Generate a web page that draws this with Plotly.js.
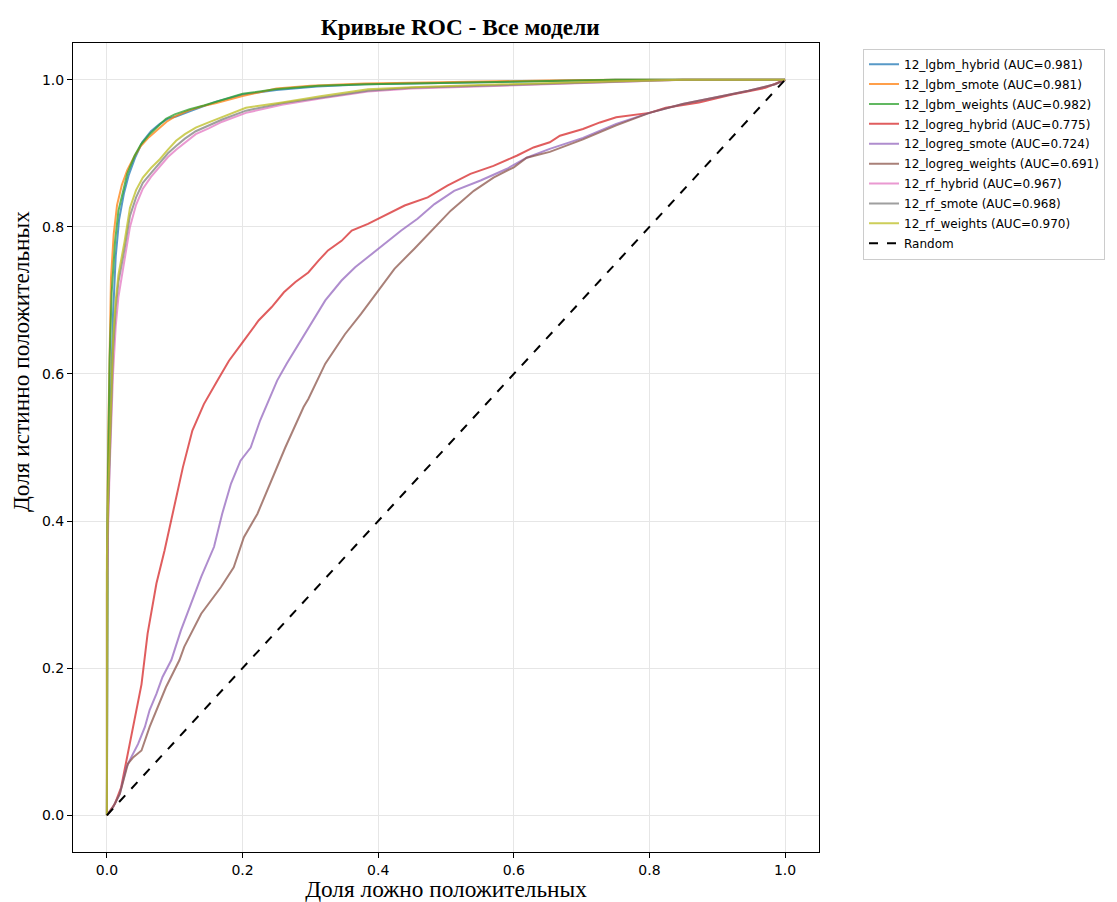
<!DOCTYPE html>
<html>
<head>
<meta charset="utf-8">
<script src="https://cdn.plot.ly/plotly-3.0.1.min.js"></script>
<style>html,body{margin:0;padding:0;background:#fff;}#chart{width:1117px;height:902px;}</style>
</head>
<body>
<div id="chart"></div>
<script>
// ---- Data ----
const lgbmX_weights = [0,0,0.001,0.002,0.004,0.007,0.012,0.017,0.024,0.03,0.041,0.05,0.063,0.075,0.087,0.1,0.122,0.143,0.158,0.2,0.248,0.312,0.385,0.45,0.55,0.65,0.75,0.85,1];
const lgbmY_weights = [0,0.30,0.42,0.49,0.62,0.71,0.78,0.822,0.85,0.872,0.897,0.912,0.926,0.937,0.947,0.953,0.96,0.965,0.969,0.981,0.987,0.992,0.994,0.995,0.997,0.999,1,1,1];

const lgbmX_hybrid = [0,0,0.001,0.003,0.006,0.009,0.013,0.018,0.025,0.032,0.042,0.052,0.065,0.078,0.09,0.102,0.125,0.145,0.16,0.2,0.25,0.31,0.38,0.45,0.55,0.65,0.75,0.85,1];
const lgbmY_hybrid = [0,0.28,0.40,0.47,0.58,0.68,0.76,0.81,0.845,0.87,0.895,0.915,0.93,0.94,0.947,0.95,0.958,0.965,0.97,0.98,0.986,0.991,0.994,0.995,0.997,0.999,1,1,1];

const lgbmX_smote = [0,0,0.001,0.002,0.004,0.006,0.01,0.015,0.022,0.03,0.04,0.05,0.062,0.075,0.088,0.1,0.12,0.14,0.16,0.2,0.25,0.3,0.38,0.45,0.55,0.65,0.75,0.85,1];
const lgbmY_smote = [0,0.31,0.44,0.52,0.64,0.73,0.79,0.83,0.857,0.877,0.895,0.91,0.922,0.933,0.943,0.95,0.958,0.964,0.968,0.978,0.988,0.992,0.995,0.996,0.998,0.999,1,1,1];

const rfX = [0,0,0.002,0.004,0.009,0.013,0.017,0.026,0.034,0.043,0.053,0.065,0.078,0.09,0.102,0.115,0.131,0.15,0.17,0.205,0.258,0.317,0.385,0.45,0.55,0.65,0.75,0.85,1];
const rfY_weights = [0,0.35,0.44,0.505,0.645,0.70,0.735,0.78,0.826,0.85,0.867,0.88,0.892,0.905,0.917,0.926,0.935,0.942,0.949,0.962,0.969,0.978,0.987,0.99,0.993,0.996,0.998,1,1];
const rfY_smote = [0,0.33,0.42,0.49,0.63,0.69,0.725,0.77,0.815,0.84,0.86,0.873,0.887,0.9,0.91,0.92,0.93,0.938,0.946,0.958,0.968,0.976,0.985,0.989,0.992,0.995,0.998,1,1];
const rfY_hybrid = [0,0.30,0.40,0.47,0.60,0.665,0.705,0.755,0.80,0.83,0.852,0.868,0.882,0.895,0.905,0.915,0.926,0.934,0.943,0.955,0.966,0.975,0.984,0.988,0.991,0.995,0.998,1,1];

const logregX_hybrid = [0,0.012,0.021,0.029,0.036,0.043,0.051,0.060,0.073,0.085,0.095,0.104,0.112,0.126,0.143,0.163,0.180,0.200,0.224,0.243,0.261,0.278,0.297,0.312,0.326,0.346,0.361,0.385,0.409,0.439,0.473,0.502,0.536,0.570,0.605,0.629,0.653,0.668,0.702,0.727,0.751,0.800,0.824,0.873,0.922,0.971,1];
const logregY_hybrid = [0,0.016,0.038,0.075,0.106,0.143,0.178,0.247,0.315,0.360,0.401,0.442,0.473,0.523,0.559,0.591,0.618,0.643,0.673,0.691,0.711,0.725,0.738,0.754,0.768,0.781,0.795,0.804,0.815,0.829,0.840,0.856,0.872,0.883,0.897,0.908,0.915,0.924,0.933,0.942,0.949,0.955,0.962,0.969,0.980,0.989,1];

const logregX_smote = [0,0.009,0.019,0.029,0.036,0.046,0.056,0.063,0.073,0.082,0.095,0.109,0.139,0.158,0.170,0.183,0.197,0.212,0.226,0.239,0.251,0.265,0.297,0.322,0.346,0.366,0.385,0.405,0.434,0.458,0.483,0.512,0.551,0.590,0.619,0.653,0.702,0.751,0.800,0.849,0.898,0.946,0.985,1];
const logregY_smote = [0,0.011,0.029,0.066,0.079,0.097,0.120,0.143,0.165,0.188,0.211,0.251,0.324,0.365,0.410,0.451,0.482,0.500,0.537,0.566,0.591,0.614,0.663,0.700,0.727,0.745,0.759,0.774,0.795,0.811,0.831,0.849,0.863,0.879,0.894,0.906,0.921,0.940,0.955,0.967,0.976,0.985,0.994,1];

const logregX_weights = [0,0.009,0.019,0.031,0.039,0.051,0.063,0.075,0.087,0.107,0.114,0.139,0.168,0.187,0.202,0.222,0.241,0.263,0.290,0.297,0.322,0.351,0.375,0.400,0.424,0.453,0.483,0.507,0.541,0.570,0.600,0.619,0.653,0.702,0.751,0.800,0.849,0.898,0.946,0.985,1];
const logregY_weights = [0,0.011,0.029,0.070,0.079,0.088,0.120,0.147,0.174,0.211,0.229,0.274,0.310,0.337,0.378,0.410,0.451,0.500,0.555,0.566,0.614,0.654,0.682,0.713,0.743,0.770,0.799,0.822,0.849,0.867,0.881,0.894,0.902,0.919,0.938,0.955,0.967,0.976,0.985,0.994,1];

const randomX = [0,1];
const randomY = [0,1];

const seriesNames = [
  "12_lgbm_hybrid (AUC=0.981)",
  "12_lgbm_smote (AUC=0.981)",
  "12_lgbm_weights (AUC=0.982)",
  "12_logreg_hybrid (AUC=0.775)",
  "12_logreg_smote (AUC=0.724)",
  "12_logreg_weights (AUC=0.691)",
  "12_rf_hybrid (AUC=0.967)",
  "12_rf_smote (AUC=0.968)",
  "12_rf_weights (AUC=0.970)"
];
const seriesX = [lgbmX_hybrid, lgbmX_smote, lgbmX_weights, logregX_hybrid, logregX_smote, logregX_weights, rfX, rfX, rfX];
const seriesY = [lgbmY_hybrid, lgbmY_smote, lgbmY_weights, logregY_hybrid, logregY_smote, logregY_weights, rfY_hybrid, rfY_smote, rfY_weights];
const colors = ["#1f77b4","#ff7f0e","#2ca02c","#d62728","#9467bd","#8c564b","#e377c2","#7f7f7f","#bcbd22"];
const tickVals = [0,0.2,0.4,0.6,0.8,1.0];
const tickText = ["0.0","0.2","0.4","0.6","0.8","1.0"];
const titleText = 'Кривые ROC - Все модели';
const xTitleText = 'Доля ложно положительных';
const yTitleText = 'Доля истинно положительных';

const traces = seriesNames.map((n,i)=>({
  x: seriesX[i], y: seriesY[i], name: n, type: 'scatter', mode: 'lines',
  legendgroup: 'g'+i,
  line: {color: colors[i], width: 2}, opacity: 0.75
}));
traces.push({x: randomX, y: randomY, name: 'Random', type: 'scatter', mode: 'lines',
  legendgroup: 'grand', line: {color: '#000', width: 2, dash: 'dash'}});

const axisCommon = {
  range: [-0.05, 1.05], tickvals: tickVals, ticktext: tickText,
  showline: true, mirror: true, linecolor: '#000', linewidth: 1,
  ticks: 'outside', ticklen: 5, tickwidth: 1, tickcolor: '#000',
  showgrid: true, gridcolor: '#e6e6e6', gridwidth: 1, zeroline: false,
  tickfont: {family: 'DejaVu Sans', size: 14, color: '#000'}, automargin: false
};
const serifFont = {family: 'Liberation Serif', size: 23.3, color: '#000'};

const layout = {
  width: 1117, height: 902,
  margin: {l: 73, r: 293, t: 43, b: 50},
  paper_bgcolor: '#fff', plot_bgcolor: '#fff',
  title: {text: '<b>' + titleText + '</b>', x: 0.412, xanchor: 'center', y: 0.970, yanchor: 'middle',
          font: serifFont},
  xaxis: Object.assign({}, axisCommon, {title: {text: xTitleText, standoff: 4, font: serifFont}}),
  yaxis: Object.assign({}, axisCommon),
  annotations: [{text: yTitleText, xref: 'paper', yref: 'paper', x: -0.0706, y: 0.606,
                 xanchor: 'center', yanchor: 'middle', textangle: -90, showarrow: false,
                 font: serifFont}],
  legend: {x: 1.059, xanchor: 'left', y: 0.993, yanchor: 'top',
           bgcolor: '#fff', bordercolor: '#cccccc', borderwidth: 1,
           font: {family: 'DejaVu Sans', size: 12, color: '#000'}, tracegroupgap: 0.9},
  showlegend: true
};

Plotly.newPlot('chart', traces, layout, {displayModeBar: false, staticPlot: true});
</script>
</body>
</html>
